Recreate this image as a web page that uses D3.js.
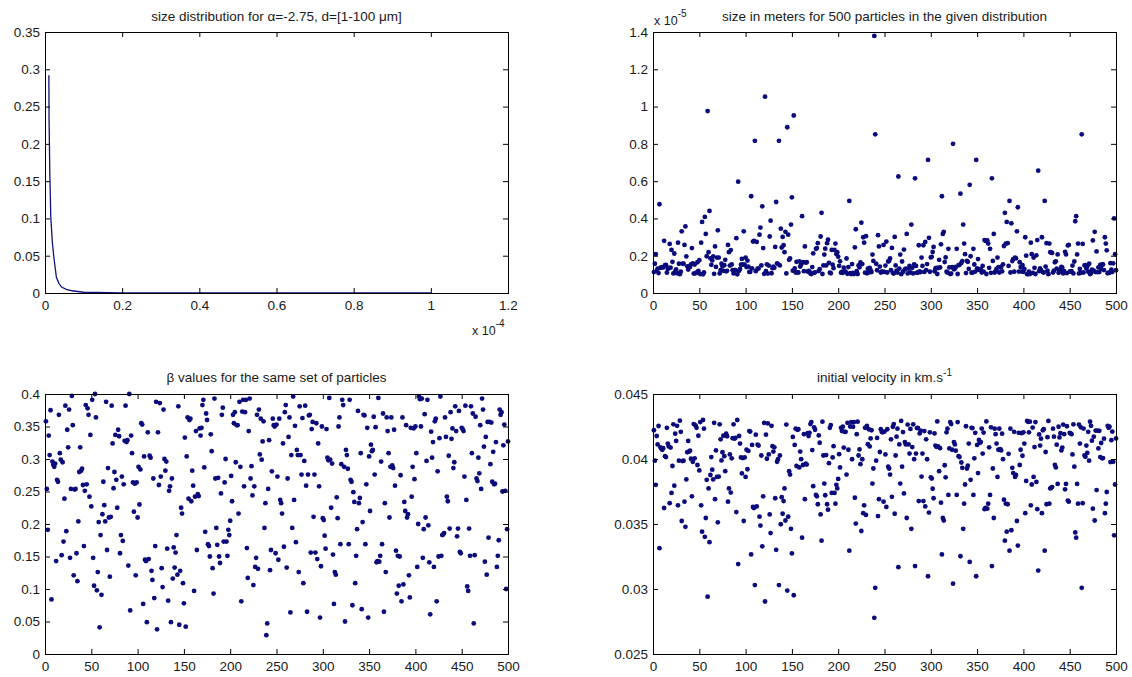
<!DOCTYPE html>
<html><head><meta charset="utf-8">
<script src="https://cdn.jsdelivr.net/npm/d3@7"></script>
<style>
body{margin:0;background:#fff}
svg text{font-family:"Liberation Sans",Arial,Helvetica,sans-serif;fill:#1a1a1a}
</style></head><body>
<svg id="chart" width="1132" height="677"></svg>
<script>
// ---- size distribution curve (diameter in micrometres, normalised density) ----
const distDiameterUm = [1, 1.05, 1.25, 1.5, 1.9, 2.3, 2.95, 3.6, 4.3, 5.5, 7, 10, 20, 50, 100];
const distDensity    = [0.292, 0.235, 0.16, 0.102, 0.068, 0.048, 0.021, 0.013, 0.008, 0.0048, 0.003, 0.001, 0.0002, 0.00002, 0.000003];
const distXTicks = [0, 0.2, 0.4, 0.6, 0.8, 1, 1.2];
const distXTickLabels = ["0", "0.2", "0.4", "0.6", "0.8", "1", "1.2"];
const distYTicks = [0, 0.05, 0.1, 0.15, 0.2, 0.25, 0.3, 0.35];
const distYTickLabels = ["0", "0.05", "0.1", "0.15", "0.2", "0.25", "0.3", "0.35"];

// ---- particle size, units of 1e-5 m ----
const particleSize = [
.112,.157,.209,.119,.131,.107,.476,.135,.137,.139,.137,.280,.149,.151,.109,.129,.134,.263,.136,.231,.167,.105,.212,.116,.126,.106,.270,.157,.101,.114,.331,.158,.157,.258,.357,.196,.143,.126,.142,.140,.154,.241,.159,.104,.153,.106,.109,.165,.119,.176,
.102,.270,.381,.100,.110,.408,.317,.197,.976,.219,.440,.186,.151,.175,.196,.103,.250,.140,.190,.336,.190,.105,.123,.157,.143,.119,.149,.178,.116,.119,.258,.219,.147,.230,.153,.122,.105,.123,.122,.294,.100,.597,.119,.129,.152,.183,.153,.331,.152,.190,
.139,.174,.141,.113,.113,.519,.132,.276,.280,.816,.117,.274,.131,.132,.313,.351,.148,.465,.241,.103,1.053,.117,.154,.104,.147,.303,.388,.106,.133,.142,.135,.247,.488,.159,.155,.816,.148,.345,.244,.301,.256,.219,.328,.105,.889,.313,.178,.185,.367,.513,
.120,.952,.132,.110,.167,.111,.110,.170,.142,.154,.412,.165,.117,.250,.163,.165,.115,.119,.115,.104,.102,.139,.213,.108,.111,.237,.241,.267,.118,.128,.303,.430,.102,.148,.206,.238,.148,.267,.286,.162,.109,.106,.231,.152,.133,.231,.265,.209,.219,.195,
.146,.170,.109,.113,.108,.136,.114,.114,.185,.103,.139,.494,.107,.102,.155,.108,.102,.245,.342,.117,.102,.148,.138,.164,.377,.155,.299,.270,.109,.305,.106,.130,.110,.134,.122,.112,.206,.172,1.379,.851,.157,.122,.310,.250,.142,.110,.114,.114,.258,.113,
.147,.276,.110,.169,.172,.185,.123,.242,.108,.104,.301,.148,.120,.110,.625,.131,.206,.101,.169,.114,.233,.127,.131,.317,.105,.131,.145,.110,.367,.135,.105,.154,.615,.145,.109,.109,.256,.116,.112,.190,.145,.256,.113,.274,.123,.155,.714,.296,.114,.191,
.194,.220,.247,.116,.132,.134,.102,.134,.178,.137,.261,.519,.317,.328,.166,.191,.114,.110,.237,.137,.102,.104,.139,.800,.127,.131,.140,.237,.102,.149,.151,.533,.161,.171,.367,.265,.208,.107,.172,.167,.129,.580,.197,.109,.109,.237,.153,.115,.714,.132,
.182,.124,.128,.127,.110,.145,.115,.284,.280,.102,.282,.265,.135,.237,.108,.615,.172,.317,.110,.117,.129,.190,.139,.110,.138,.140,.116,.154,.252,.430,.265,.381,.267,.145,.494,.110,.374,.171,.182,.114,.190,.186,.331,.460,.115,.165,.139,.115,.149,.114,
.129,.299,.200,.101,.102,.114,.102,.270,.208,.108,.190,.135,.102,.202,.284,.656,.117,.132,.123,.299,.112,.110,.494,.142,.267,.120,.101,.265,.219,.217,.215,.110,.120,.165,.170,.131,.207,.108,.121,.115,.140,.136,.105,.117,.221,.207,.107,.255,.258,.115,
.116,.117,.147,.105,.169,.385,.412,.207,.265,.105,.129,.108,.851,.263,.110,.148,.150,.132,.144,.114,.157,.102,.106,.125,.282,.120,.328,.112,.223,.112,.137,.112,.151,.129,.153,.153,.123,.299,.265,.229,.106,.109,.108,.160,.125,.113,.159,.400,.208,.122
];

// ---- beta values ----
const betaValues = [
.358,.254,.191,.336,.306,.375,.084,.296,.291,.288,.293,.143,.268,.265,.368,.309,.299,.152,.295,.173,.239,.382,.189,.345,.318,.376,.148,.254,.397,.352,.121,.253,.254,.155,.112,.204,.280,.318,.282,.285,.260,.166,.251,.383,.261,.378,.368,.242,.337,.227,
.391,.148,.105,.400,.364,.098,.126,.203,.041,.183,.091,.215,.265,.229,.204,.388,.160,.286,.210,.119,.211,.382,.324,.255,.280,.337,.268,.225,.345,.335,.155,.183,.273,.174,.261,.328,.382,.326,.329,.136,.400,.067,.336,.309,.264,.219,.262,.121,.264,.210,
.288,.230,.284,.355,.353,.077,.304,.145,.143,.049,.341,.146,.305,.302,.128,.114,.270,.086,.166,.388,.038,.341,.260,.386,.273,.132,.103,.376,.300,.282,.296,.162,.082,.251,.258,.049,.270,.116,.164,.133,.156,.183,.122,.381,.045,.128,.225,.216,.109,.078,
.333,.042,.304,.364,.239,.360,.362,.235,.282,.259,.097,.242,.343,.160,.246,.243,.347,.336,.348,.383,.391,.287,.188,.370,.360,.169,.166,.150,.338,.312,.132,.093,.393,.270,.194,.168,.271,.150,.140,.247,.368,.379,.173,.264,.300,.173,.151,.191,.183,.205,
.274,.235,.368,.355,.372,.295,.352,.352,.216,.388,.288,.081,.373,.391,.258,.372,.391,.163,.117,.343,.393,.270,.289,.244,.106,.258,.134,.148,.368,.131,.376,.307,.362,.299,.327,.358,.194,.232,.029,.047,.254,.329,.129,.160,.281,.362,.352,.350,.155,.353,
.273,.145,.362,.237,.232,.216,.324,.165,.372,.383,.133,.270,.334,.364,.064,.306,.194,.396,.237,.351,.172,.314,.306,.126,.381,.306,.276,.363,.109,.297,.382,.259,.065,.276,.367,.368,.156,.346,.357,.211,.276,.156,.355,.146,.324,.258,.056,.135,.350,.209,
.206,.182,.162,.346,.302,.298,.394,.299,.225,.293,.153,.077,.126,.122,.241,.209,.350,.364,.169,.292,.391,.383,.288,.050,.314,.306,.285,.169,.391,.268,.265,.075,.249,.234,.109,.151,.192,.374,.232,.240,.309,.069,.203,.368,.367,.169,.261,.348,.056,.304,
.220,.322,.312,.314,.365,.276,.349,.141,.143,.394,.142,.151,.296,.169,.370,.065,.232,.126,.364,.343,.309,.210,.288,.364,.290,.286,.345,.259,.159,.093,.151,.105,.150,.275,.081,.364,.107,.234,.220,.352,.210,.215,.121,.087,.348,.242,.288,.347,.269,.350,
.309,.134,.200,.396,.392,.350,.393,.148,.192,.369,.210,.297,.391,.198,.141,.061,.342,.302,.326,.134,.358,.362,.081,.281,.150,.332,.396,.151,.183,.184,.186,.364,.334,.242,.235,.305,.193,.372,.331,.347,.286,.295,.381,.343,.181,.193,.374,.157,.155,.348,
.346,.343,.273,.382,.237,.104,.097,.193,.151,.381,.309,.370,.047,.152,.365,.270,.266,.302,.278,.352,.254,.393,.376,.319,.142,.334,.122,.357,.179,.357,.292,.356,.265,.311,.261,.262,.326,.134,.151,.175,.376,.368,.372,.250,.321,.353,.251,.100,.192,.327
];

// ---- initial velocity, km/s ----
const initialVelocity = [
.04221,.03987,.03801,.04177,.04112,.04254,.03314,.0409,.04078,.04071,.04083,.03623,.04022,.04015,.0424,.04119,.04097,.0366,.04088,.03739,.03946,.04267,.03795,.04195,.04139,.04255,.03644,.03987,.04295,.04209,.03523,.03984,.03987,.03672,.03478,.03843,.04052,.04139,.04057,.04064,.04002,.03713,.03979,.04269,.04005,.04259,.0424,.03954,.04179,.03912,
.04284,.03644,.03441,.043,.04233,.03401,.03546,.0384,.02941,.03774,.0336,.03877,.04015,.03918,.03843,.04278,.03691,.04066,.03862,.03513,.03865,.04267,.04151,.03989,.04052,.04179,.04022,.03906,.04195,.04175,.03672,.03774,.04035,.03742,.04005,.0416,.04267,.04156,.04162,.03592,.043,.03192,.04177,.04119,.04012,.03889,.04007,.03523,.04012,.03862,
.04071,.03921,.04062,.04215,.04211,.03266,.04108,.03631,.03623,.0303,.04187,.03635,.0411,.04103,.03556,.03488,.04027,.03328,.03713,.04278,.02904,.04187,.04002,.04274,.04035,.03574,.0343,.04255,.04099,.04057,.0409,.03698,.03301,.03979,.03998,.0303,.04027,.03498,.03706,.03579,.03676,.03774,.03527,.04265,.02988,.03556,.03906,.0388,.03463,.03274,
.0417,.02952,.04108,.04233,.03946,.04225,.04229,.03935,.04057,.03999,.03395,.03954,.04191,.03691,.03965,.03957,.04199,.04177,.04201,.04269,.04284,.04069,.03791,.04244,.04225,.03724,.03713,.03652,.04181,.04125,.03574,.03372,.04287,.04027,.03811,.03721,.0403,.03652,.0361,.03968,.0424,.04261,.03739,.04012,.04099,.03739,.03656,.03801,.03774,.03847,
.04037,.03935,.0424,.04215,.04248,.04088,.04209,.04209,.0388,.04278,.04071,.03295,.0425,.04284,.03998,.04248,.04284,.03702,.03503,.04191,.04287,.04027,.04074,.0396,.03446,.03998,.03583,.03644,.0424,.0357,.04255,.04114,.04229,.04097,.04158,.04221,.03811,.03927,.02778,.03009,.03987,.04162,.03561,.03691,.04054,.04229,.04209,.04205,.03672,.04211,
.04035,.03631,.04229,.03941,.03927,.0388,.04151,.03709,.04248,.04269,.03579,.04027,.04172,.04233,.03168,.04112,.03811,.04293,.03941,.04207,.03735,.0413,.04112,.03546,.04265,.04112,.04042,.04231,.03463,.04092,.04267,.03999,.03176,.04042,.04238,.0424,.03676,.04197,.04219,.03865,.04042,.03676,.04215,.03635,.04151,.03998,.03098,.03588,.04205,.03859,
.0385,.03771,.03698,.04197,.04103,.04094,.04289,.04097,.03906,.04083,.03664,.03266,.03546,.03527,.03952,.03859,.04205,.04233,.03724,.04081,.04284,.04269,.04071,.03041,.0413,.04112,.04064,.03724,.04284,.04022,.04015,.03252,.03973,.03932,.03463,.03656,.03804,.04252,.03927,.03949,.04119,.03208,.0384,.0424,.04238,.03724,.04005,.04201,.03098,.04108,
.03892,.04147,.04125,.0413,.04234,.04042,.04203,.03614,.03623,.04289,.03618,.03656,.0409,.03724,.04244,.03176,.03927,.03546,.04233,.04191,.04119,.03862,.04071,.04233,.04076,.04066,.04195,.03999,.03687,.03372,.03656,.03441,.03652,.0404,.03295,.04233,.03452,.03932,.03892,.04209,.03862,.03877,.03523,.03334,.04201,.03954,.04071,.04199,.04025,.04205,
.04119,.03583,.03831,.04293,.04286,.04205,.04287,.03644,.03804,.04242,.03862,.04092,.04284,.03824,.03614,.03142,.04189,.04103,.04156,.03583,.04221,.04229,.03295,.04054,.03652,.04168,.04293,.03656,.03774,.03778,.03784,.04233,.04172,.03954,.03935,.0411,.03808,.04248,.04166,.04199,.04066,.04088,.04265,.04191,.03767,.03808,.04252,.0368,.03672,.04201,
.04197,.04191,.04035,.04267,.03941,.03435,.03395,.03808,.03656,.04265,.04119,.04244,.03009,.0366,.04234,.04027,.04017,.04103,.04047,.04209,.03987,.04287,.04255,.04141,.03618,.04172,.03527,.04219,.03761,.04219,.04081,.04217,.04015,.04123,.04005,.04007,.04156,.03583,.03656,.03746,.04255,.0424,.04248,.03976,.04145,.04211,.03979,.03413,.03804,.04158
];

const indexTicks = [0, 50, 100, 150, 200, 250, 300, 350, 400, 450, 500];
const indexTickLabels = ["0", "50", "100", "150", "200", "250", "300", "350", "400", "450", "500"];
const sizeYTicks = [0, 0.2, 0.4, 0.6, 0.8, 1, 1.2, 1.4];
const sizeYTickLabels = ["0", "0.2", "0.4", "0.6", "0.8", "1", "1.2", "1.4"];
const betaYTicks = [0, 0.05, 0.1, 0.15, 0.2, 0.25, 0.3, 0.35, 0.4];
const betaYTickLabels = ["0", "0.05", "0.1", "0.15", "0.2", "0.25", "0.3", "0.35", "0.4"];
const velYTicks = [0.025, 0.03, 0.035, 0.04, 0.045];
const velYTickLabels = ["0.025", "0.03", "0.035", "0.04", "0.045"];

const particleIndex = d3.range(1, betaValues.length + 1);

const svg = d3.select("#chart");
svg.append("rect").attr("width", 1132).attr("height", 677).attr("fill", "#fff");

const MARK = "#0b0b7c";
const FS = 13.5;

function panel(cfg) {
  const w = cfg.right - cfg.left, h = cfg.bottom - cfg.top;
  const g = svg.append("g").attr("transform", `translate(${cfg.left},${cfg.top})`);
  const x = d3.scaleLinear().domain(cfg.xDomain).range([0, w]);
  const y = d3.scaleLinear().domain(cfg.yDomain).range([h, 0]);

  cfg.draw(g, x, y);

  const style = sel => {
    sel.attr("font-size", FS).attr("font-family", null);
    sel.select(".domain").remove();
    sel.selectAll("line").attr("stroke", "#000");
  };
  g.append("g").attr("transform", `translate(0,${h})`)
    .call(d3.axisBottom(x).tickValues(cfg.xTicks).tickFormat((d, i) => cfg.xLabels[i]).tickSizeInner(-5).tickSizeOuter(0).tickPadding(7)).call(style);
  g.append("g")
    .call(d3.axisLeft(y).tickValues(cfg.yTicks).tickFormat((d, i) => cfg.yLabels[i]).tickSizeInner(-5).tickSizeOuter(0).tickPadding(5)).call(style);
  g.append("g")
    .call(d3.axisTop(x).tickValues(cfg.xTicks).tickFormat("").tickSizeInner(-5).tickSizeOuter(0)).call(style);
  g.append("g").attr("transform", `translate(${w},0)`)
    .call(d3.axisRight(y).tickValues(cfg.yTicks).tickFormat("").tickSizeInner(-5).tickSizeOuter(0)).call(style);
  g.selectAll(".tick text").attr("fill", "#1a1a1a");

  g.append("rect").attr("x", 0.5).attr("y", 0.5).attr("width", w).attr("height", h)
    .attr("fill", "none").attr("stroke", "#000").attr("stroke-width", 1);

  const t = g.append("text").attr("x", w / 2).attr("y", cfg.titleY).attr("text-anchor", "middle")
    .attr("font-size", FS);
  cfg.title(t);
  return {g, x, y, w, h};
}

function scatter(xs, ys) {
  return (g, x, y) => {
    g.append("g").selectAll("circle").data(ys).join("circle")
      .attr("cx", (d, i) => x(xs[i])).attr("cy", d => y(d)).attr("r", 2.4)
      .attr("fill", MARK);
  };
}

// top-left: size distribution
const tl = panel({
  left: 45, right: 508, top: 32, bottom: 293, titleY: -11,
  xDomain: [0, 1.2], yDomain: [0, 0.35],
  xTicks: distXTicks, xLabels: distXTickLabels, yTicks: distYTicks, yLabels: distYTickLabels,
  draw: (g, x, y) => {
    const line = d3.line().x(d => x(d[0] / 100)).y(d => y(d[1]));
    g.append("path").datum(distDiameterUm.map((d, i) => [d, distDensity[i]]))
      .attr("d", line).attr("fill", "none").attr("stroke", "#12127a").attr("stroke-width", 1.3);
  },
  title: t => { t.text("size distribution for α=-2.75, d=[1-100 μm]"); }
});
const tlExp = tl.g.append("text").attr("x", 427).attr("y", tl.h + 42).attr("font-size", FS - 1);
tlExp.append("tspan").text("x 10");
tlExp.append("tspan").attr("dy", -8).attr("font-size", 10).text("-4");

// top-right: sizes
const tr = panel({
  left: 653, right: 1116, top: 32, bottom: 293, titleY: -11,
  xDomain: [0, 500], yDomain: [0, 1.4],
  xTicks: indexTicks, xLabels: indexTickLabels, yTicks: sizeYTicks, yLabels: sizeYTickLabels,
  draw: scatter(particleIndex, particleSize),
  title: t => { t.text("size in meters for 500 particles in the given distribution"); }
});
const trExp = tr.g.append("text").attr("x", 1).attr("y", -7).attr("font-size", FS - 1);
trExp.append("tspan").text("x 10");
trExp.append("tspan").attr("dy", -8).attr("font-size", 10).text("-5");

// bottom-left: beta
panel({
  left: 45, right: 508, top: 394, bottom: 654, titleY: -12,
  xDomain: [0, 500], yDomain: [0, 0.4],
  xTicks: indexTicks, xLabels: indexTickLabels, yTicks: betaYTicks, yLabels: betaYTickLabels,
  draw: scatter(particleIndex, betaValues),
  title: t => { t.text("β values for the same set of particles"); }
});

// bottom-right: velocity
panel({
  left: 653, right: 1116, top: 394, bottom: 654, titleY: -12,
  xDomain: [0, 500], yDomain: [0.025, 0.045],
  xTicks: indexTicks, xLabels: indexTickLabels, yTicks: velYTicks, yLabels: velYTickLabels,
  draw: scatter(particleIndex, initialVelocity),
  title: t => {
    t.append("tspan").text("initial velocity in km.s");
    t.append("tspan").attr("dy", -6).attr("font-size", 10).text("-1");
  }
});
</script>
</body></html>
